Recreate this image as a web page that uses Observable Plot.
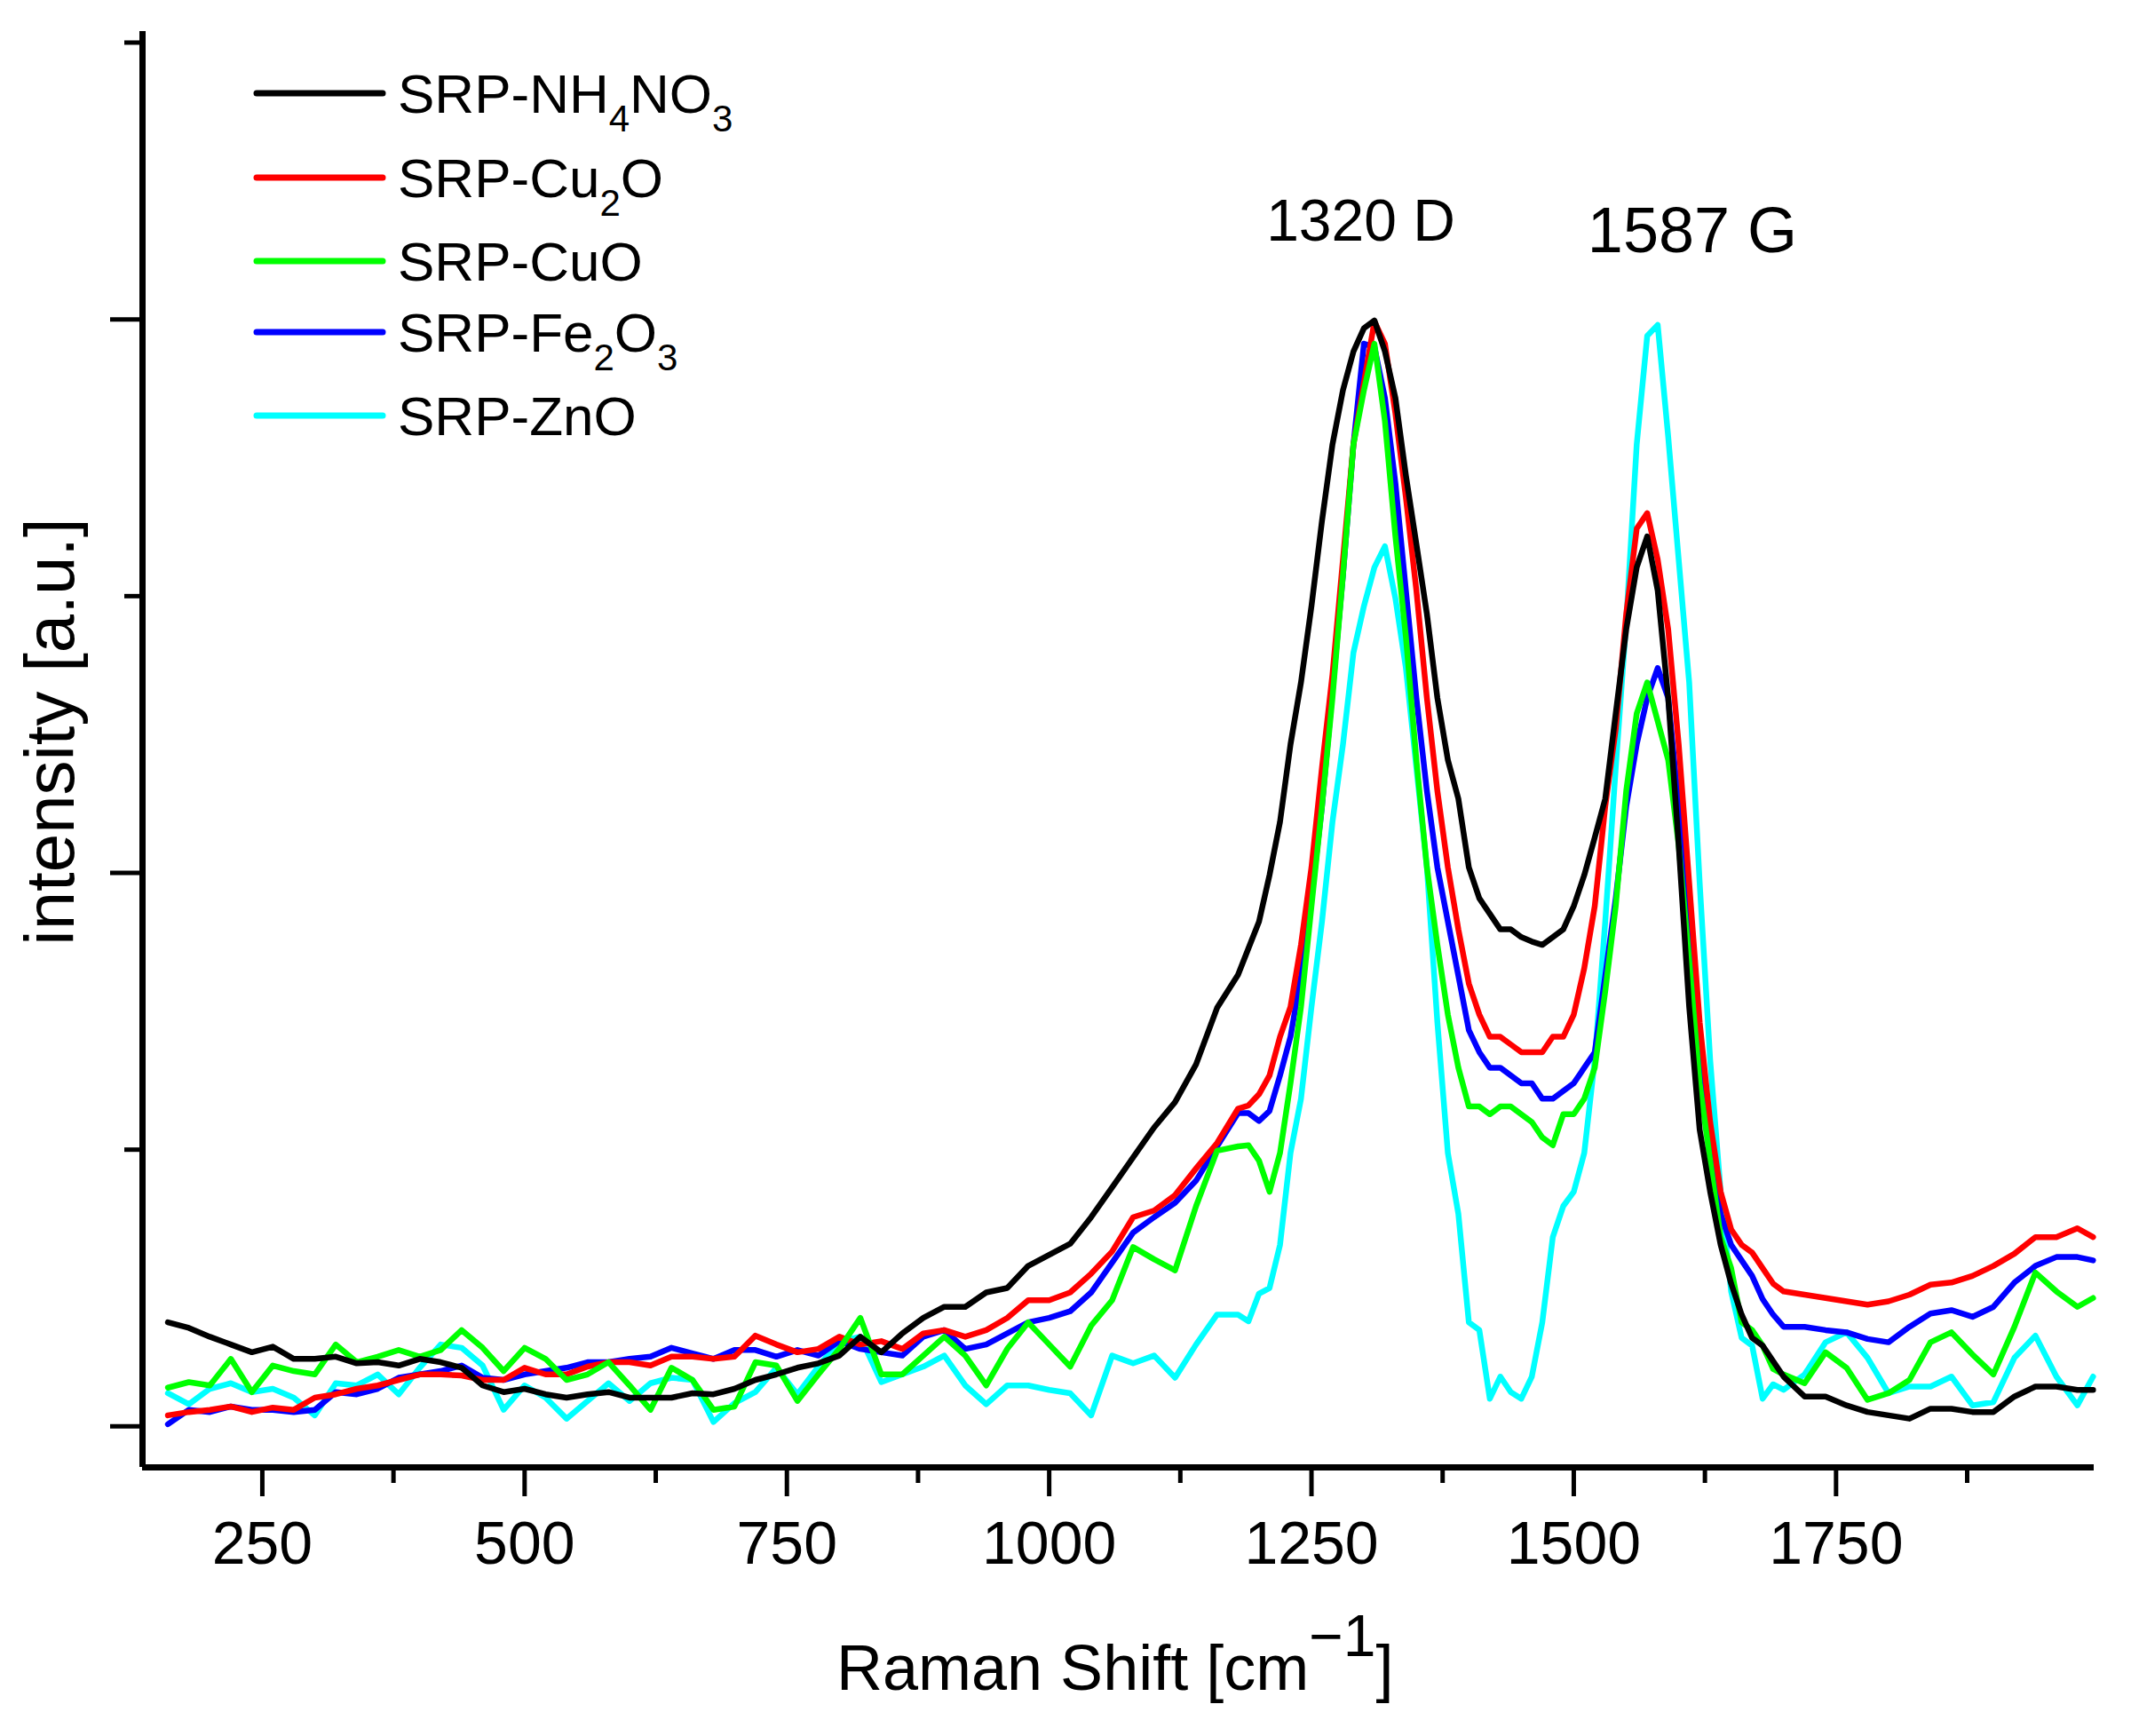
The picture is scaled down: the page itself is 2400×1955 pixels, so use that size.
<!DOCTYPE html>
<html>
<head>
<meta charset="utf-8">
<script src="https://cdn.jsdelivr.net/npm/d3@7"></script>
<script src="https://cdn.jsdelivr.net/npm/@observablehq/plot@0.6"></script>
<style>
  body { margin: 0; background: #fff; }
</style>
</head>
<body>
<div id="chart"></div>
<script>
/* Raman shift, cm-1 (shared by all spectra) */
const ramanShift = [160,180,200,220,240,260,280,300,320,340,360,380,400,420,440,460,480,500,520,540,560,580,600,620,640,660,680,700,720,740,760,780,800,820,840,860,880,900,920,940,960,980,1000,1020,1040,1060,1080,1100,1120,1140,1160,1180,
  1190,1200,1210,1220,1230,1240,1250,1260,1270,1280,1290,1300,1310,1320,1330,1340,1350,1360,1370,1380,1390,1400,1410,1420,1430,1440,1450,1460,1470,1480,1490,1500,1510,1520,1530,1540,1550,1560,1570,1580,1590,1600,1610,1620,1630,1640,1650,1660,1670,1680,1690,1700,
  1720,1740,1760,1780,1800,1820,1840,1860,1880,1900,1920,1940,1960,1980,1995]

/* normalised intensities */
const nh4no3 = [0.094,0.089,0.081,0.074,0.067,0.072,0.061,0.061,0.063,0.057,0.058,0.055,0.061,0.058,0.053,0.037,0.031,0.034,0.029,0.026,0.029,0.031,0.026,0.026,0.026,0.030,0.029,0.034,0.042,0.047,0.053,0.057,0.064,0.081,0.067,0.084,0.098,0.108,0.108,0.121,0.125,0.145,0.155,0.165,0.189,0.216,0.243,0.270,0.293,0.327,0.378,0.408,
  0.432,0.456,0.498,0.546,0.616,0.672,0.741,0.818,0.887,0.936,0.971,0.992,0.999,0.971,0.929,0.859,0.797,0.734,0.658,0.602,0.567,0.505,0.477,0.463,0.449,0.449,0.442,0.438,0.435,0.442,0.449,0.470,0.498,0.532,0.567,0.644,0.720,0.776,0.804,0.755,0.658,0.525,0.379,0.268,0.212,0.164,0.129,0.101,0.080,0.073,0.059,0.045,
  0.027,0.027,0.019,0.013,0.010,0.007,0.016,0.016,0.013,0.013,0.027,0.036,0.036,0.033,0.033]

const cu2o = [0.010,0.013,0.015,0.018,0.013,0.017,0.015,0.026,0.029,0.034,0.037,0.042,0.047,0.047,0.046,0.042,0.042,0.053,0.047,0.047,0.054,0.058,0.058,0.055,0.063,0.063,0.061,0.063,0.082,0.074,0.067,0.070,0.081,0.074,0.077,0.070,0.084,0.087,0.081,0.087,0.098,0.114,0.114,0.121,0.138,0.158,0.189,0.195,0.209,0.233,0.256,0.287,
  0.290,0.300,0.317,0.352,0.379,0.435,0.505,0.595,0.679,0.783,0.887,0.943,0.998,0.978,0.915,0.839,0.755,0.658,0.574,0.505,0.449,0.400,0.372,0.352,0.352,0.345,0.338,0.338,0.338,0.352,0.352,0.372,0.414,0.470,0.560,0.630,0.734,0.811,0.825,0.783,0.720,0.616,0.491,0.365,0.275,0.212,0.178,0.164,0.157,0.143,0.129,0.122,
  0.119,0.116,0.113,0.110,0.113,0.119,0.128,0.130,0.136,0.145,0.156,0.171,0.171,0.179,0.171]

const cuo = [0.035,0.040,0.037,0.061,0.031,0.055,0.050,0.047,0.074,0.058,0.063,0.069,0.063,0.069,0.087,0.071,0.050,0.071,0.061,0.042,0.047,0.058,0.037,0.015,0.053,0.042,0.015,0.018,0.058,0.055,0.023,0.047,0.070,0.098,0.047,0.047,0.064,0.081,0.064,0.037,0.070,0.094,0.074,0.054,0.091,0.114,0.162,0.151,0.141,0.199,0.249,0.253,
  0.254,0.240,0.212,0.247,0.310,0.379,0.470,0.560,0.658,0.769,0.887,0.936,0.978,0.908,0.804,0.713,0.602,0.505,0.435,0.372,0.324,0.289,0.289,0.282,0.289,0.289,0.282,0.275,0.261,0.254,0.282,0.282,0.296,0.324,0.393,0.470,0.574,0.644,0.672,0.637,0.602,0.525,0.421,0.310,0.240,0.171,0.143,0.094,0.087,0.073,0.052,0.047,
  0.039,0.067,0.053,0.024,0.030,0.042,0.076,0.085,0.065,0.047,0.090,0.139,0.122,0.108,0.116]

const fe2o3 = [0.002,0.015,0.013,0.018,0.015,0.015,0.013,0.015,0.031,0.029,0.034,0.044,0.047,0.050,0.055,0.044,0.042,0.047,0.050,0.053,0.058,0.058,0.061,0.063,0.071,0.066,0.061,0.069,0.069,0.063,0.069,0.064,0.077,0.070,0.067,0.064,0.081,0.087,0.070,0.074,0.084,0.094,0.098,0.104,0.121,0.148,0.175,0.189,0.202,0.222,0.253,0.283,
  0.283,0.276,0.285,0.317,0.352,0.407,0.477,0.560,0.665,0.769,0.887,0.978,0.975,0.929,0.852,0.755,0.658,0.574,0.505,0.456,0.407,0.358,0.338,0.324,0.324,0.317,0.310,0.310,0.296,0.296,0.303,0.310,0.324,0.338,0.407,0.477,0.560,0.616,0.658,0.685,0.658,0.560,0.435,0.338,0.261,0.192,0.164,0.150,0.136,0.115,0.101,0.090,
  0.090,0.087,0.085,0.079,0.076,0.090,0.102,0.105,0.099,0.108,0.130,0.145,0.153,0.153,0.150]

const zno = [0.030,0.020,0.034,0.039,0.031,0.034,0.026,0.010,0.039,0.037,0.047,0.029,0.053,0.074,0.071,0.055,0.015,0.037,0.026,0.007,0.023,0.039,0.023,0.039,0.044,0.042,0.004,0.021,0.031,0.053,0.029,0.054,0.077,0.081,0.040,0.047,0.054,0.064,0.037,0.020,0.037,0.037,0.033,0.030,0.010,0.064,0.057,0.064,0.044,0.074,0.101,0.101,
  0.095,0.120,0.125,0.164,0.247,0.296,0.379,0.456,0.546,0.616,0.699,0.741,0.776,0.795,0.748,0.685,0.595,0.505,0.365,0.247,0.192,0.094,0.087,0.025,0.045,0.031,0.025,0.045,0.094,0.171,0.199,0.212,0.247,0.331,0.456,0.595,0.727,0.887,0.985,0.995,0.894,0.783,0.672,0.491,0.331,0.212,0.122,0.080,0.073,0.025,0.038,0.033,
  0.047,0.076,0.085,0.062,0.030,0.036,0.036,0.045,0.019,0.022,0.062,0.082,0.045,0.019,0.045]

/* legend order */
const sampleNames = ['SRP-NH_4NO_3', 'SRP-Cu_2O', 'SRP-CuO', 'SRP-Fe_2O_3', 'SRP-ZnO']
const sampleColors = ['#000000', '#ff0000', '#00ff00', '#0000ff', '#00ffff']
const sampleSeries = [nh4no3, cu2o, cuo, fe2o3, zno]
/* draw order, back to front */
const drawOrder = [4, 3, 1, 2, 0]

const majorX = [250, 500, 750, 1000, 1250, 1500, 1750]
const minorX = [375, 625, 875, 1125, 1375, 1625, 1875]
const majorY = [0, 0.5, 1]
const minorY = [0.25, 0.75, 1.25]

const peakNotes = [
  {shift: 1297, level: 1.088, text: '1320 D', size: 66},
  {shift: 1613, level: 1.079, text: '1587 G', size: 72},
]

const xDomain = [135.8, 1996]
const yDomain = [-0.037, 1.26]
const font = '"Liberation Sans", Arial, sans-serif'

/* flat table for Plot */
let rows = []
drawOrder.forEach(i => {
  sampleSeries[i].forEach((v, j) => {
    rows.push({sample: sampleNames[i], shift: ramanShift[j], intensity: v})
  })
})

const chart = Plot.plot({
  width: 2400,
  height: 1955,
  marginLeft: 160,
  marginRight: 42,
  marginTop: 35,
  marginBottom: 303,
  style: {fontFamily: font, fontSize: '68px', color: 'black', background: 'white'},
  x: {domain: xDomain},
  y: {domain: yDomain},
  color: {domain: sampleNames, range: sampleColors},
  marks: [
    Plot.line(rows, {x: 'shift', y: 'intensity', z: 'sample', stroke: 'sample', strokeWidth: 6.5, strokeLinejoin: 'round'}),
    Plot.text(peakNotes, {x: 'shift', y: 'level', text: 'text', fontSize: 'size', fill: 'black', textAnchor: 'middle'}),
    Plot.axisX({ticks: majorX, tickSize: 33, tickPadding: 27, tickFormat: d => String(d), strokeWidth: 5, fontSize: 68, label: null}),
    Plot.axisX({ticks: minorX, tickSize: 18, tickFormat: () => '', strokeWidth: 5, label: null}),
    Plot.axisY({ticks: majorY, tickSize: 36, tickFormat: () => '', strokeWidth: 5, label: null}),
    Plot.axisY({ticks: minorY, tickSize: 20, tickFormat: () => '', strokeWidth: 5, label: null}),
    Plot.ruleY([yDomain[0]], {strokeWidth: 7}),
    Plot.ruleX([xDomain[0]], {strokeWidth: 7}),
  ],
})

d3.select('#chart').append(() => chart)
const svg = d3.select(chart)

/* legend, with chemical subscripts */
const legendY = [105, 200, 294, 374, 468]
const legend = svg.append('g')
  .attr('font-family', font).attr('font-size', 62).attr('fill', 'black')
  .attr('text-anchor', 'start')
sampleNames.forEach((name, i) => {
  legend.append('line')
    .attr('x1', 289).attr('x2', 431)
    .attr('y1', legendY[i]).attr('y2', legendY[i])
    .attr('stroke', sampleColors[i]).attr('stroke-width', 7).attr('stroke-linecap', 'round')
  const t = legend.append('text').attr('x', 448).attr('y', legendY[i] + 22)
  let down = false
  name.split(/(_\d)/).filter(p => p).forEach(p => {
    const sub = p.startsWith('_')
    const span = t.append('tspan').text(sub ? p.slice(1) : p)
    if (sub) {
      span.attr('font-size', 42)
      if (!down) span.attr('dy', 21)
      down = true
    } else if (down) {
      span.attr('dy', -21)
      down = false
    }
  })
})

/* axis titles */
const xt = svg.append('text')
  .attr('x', 942).attr('y', 1903)
  .attr('text-anchor', 'start')
  .attr('font-family', font).attr('font-size', 72).attr('fill', 'black')
xt.append('tspan').text('Raman Shift [cm')
xt.append('tspan').text('\u22121').attr('font-size', 66).attr('dy', -38)
xt.append('tspan').text(']').attr('dy', 38)

svg.append('text')
  .attr('transform', 'translate(83,824) rotate(-90)')
  .attr('text-anchor', 'middle')
  .attr('font-family', font).attr('font-size', 78).attr('fill', 'black')
  .text('intensity [a.u.]')
</script>
</body>
</html>
